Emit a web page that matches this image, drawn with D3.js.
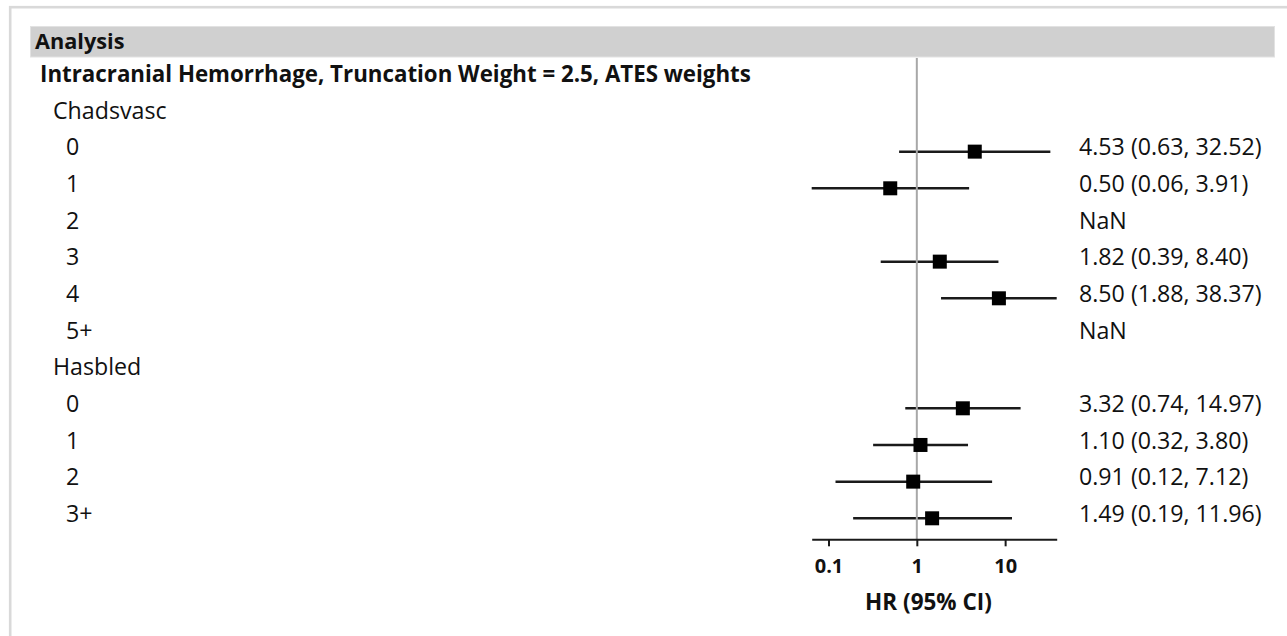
<!DOCTYPE html>
<html>
<head>
<meta charset="utf-8">
<script src="https://cdn.jsdelivr.net/npm/d3@7"></script>
<style>
  html, body { margin: 0; padding: 0; background: #fff; }
  svg { display: block; font-family: "Open Sans", "Noto Sans", sans-serif; }
</style>
</head>
<body>
<svg id="chart" width="1287" height="636"></svg>
<script>
// ---- data ----
const headerTitle = "Analysis";
const rowLabels = [
  "Intracranial Hemorrhage, Truncation Weight = 2.5, ATES weights",
  "Chadsvasc", "0", "1", "2", "3", "4", "5+",
  "Hasbled", "0", "1", "2", "3+"
];
const rowLevel = [0, 1, 2, 2, 2, 2, 2, 2, 1, 2, 2, 2, 2];
const hrValues = [null, null, 4.53, 0.50, NaN, 1.82, 8.50, NaN, null, 3.32, 1.10, 0.91, 1.49];
const lowerCI  = [null, null, 0.63, 0.0645, NaN, 0.39, 1.88, NaN, null, 0.74, 0.32, 0.12, 0.19];
const upperCI  = [null, null, 32.52, 3.91, NaN, 8.40, 38.37, NaN, null, 14.97, 3.80, 7.12, 11.96];
const tickValues = [0.1, 1, 10];
const tickLabels = ["0.1", "1", "10"];
const axisTitle = "HR (95% CI)";

// ---- layout ----
const svg = d3.select("#chart");
const W = 1287, H = 636;

// outer frame (top + left edges visible)
svg.append("rect")
  .attr("x", 10.2).attr("y", 7.2)
  .attr("width", W + 20).attr("height", H + 20)
  .attr("fill", "none").attr("stroke", "#d9d9d9").attr("stroke-width", 2.6);

// header bar
svg.append("rect")
  .attr("x", 30.5).attr("y", 26.5).attr("width", 1244).attr("height", 30.5)
  .attr("fill", "#d0d0d0").attr("stroke", "#e2e2e2").attr("stroke-width", 1);
svg.append("text")
  .attr("x", 35).attr("y", 49)
  .attr("font-size", 21.7).attr("font-weight", "bold").attr("fill", "#111")
  .text(headerTitle);

const y = d3.scaleLinear().domain([0, rowLabels.length - 1]).range([73.7, 513.7]);
const indentX = [40, 53, 66];
const fsRow = 23.2;
const fsBold = 22.3;

// left labels
svg.append("g").selectAll("text")
  .data(rowLabels)
  .join("text")
  .attr("x", (d, i) => indentX[rowLevel[i]])
  .attr("y", (d, i) => y(i) + 0.357 * (rowLevel[i] === 0 ? fsBold : fsRow))
  .attr("font-size", (d, i) => rowLevel[i] === 0 ? fsBold : fsRow)
  .attr("font-weight", (d, i) => rowLevel[i] === 0 ? "bold" : "normal")
  .attr("fill", "#111")
  .text(d => d);

// x scale (log)
const finiteLo = lowerCI.filter(v => v != null && isFinite(v));
const finiteHi = upperCI.filter(v => v != null && isFinite(v));
const x = d3.scaleLog()
  .domain([d3.min(finiteLo), d3.max(finiteHi)])
  .range([811.7, 1056.7]);

const axisY = 539.3;
const markerOffset = 4.6;

// data rows
const rows = rowLabels.map((lab, i) => ({
  i, hr: hrValues[i], lo: lowerCI[i], hi: upperCI[i], level: rowLevel[i]
}));
const est = rows.filter(r => r.hr != null && isFinite(r.hr));

// CI lines
svg.append("g").selectAll("line")
  .data(est)
  .join("line")
  .attr("x1", d => x(d.lo)).attr("x2", d => x(d.hi))
  .attr("y1", d => y(d.i) + markerOffset).attr("y2", d => y(d.i) + markerOffset)
  .attr("stroke", "#1a1a1a").attr("stroke-width", 2.5);

// reference line at 1
svg.append("line")
  .attr("x1", x(1)).attr("x2", x(1))
  .attr("y1", 58).attr("y2", axisY)
  .attr("stroke", "#a8a8a8").attr("stroke-width", 2);

// markers
const ms = 14;
svg.append("g").selectAll("rect")
  .data(est)
  .join("rect")
  .attr("x", d => x(d.hr) - ms / 2)
  .attr("y", d => y(d.i) + markerOffset - ms / 2)
  .attr("width", ms).attr("height", ms)
  .attr("fill", "#000");

// right-hand labels
const f2 = d3.format(".2f");
svg.append("g").selectAll("text")
  .data(rows.filter(r => r.level === 2))
  .join("text")
  .attr("x", 1079)
  .attr("y", d => y(d.i) + 0.357 * fsRow)
  .attr("font-size", fsRow)
  .attr("fill", "#111")
  .text(d => isFinite(d.hr) ? `${f2(d.hr)} (${f2(d.lo)}, ${f2(d.hi)})` : "NaN");

// axis
const axis = d3.axisBottom(x)
  .tickValues(tickValues)
  .tickFormat((d, i) => tickLabels[i])
  .tickSize(7)
  .tickSizeOuter(0);
const gAxis = svg.append("g")
  .attr("transform", `translate(0,${axisY})`)
  .call(axis);
gAxis.select(".domain").attr("stroke", "#1a1a1a").attr("stroke-width", 2);
gAxis.selectAll(".tick line").attr("stroke", "#1a1a1a").attr("stroke-width", 2);
gAxis.selectAll(".tick text")
  .attr("dy", null)
  .attr("y", 34)
  .attr("font-size", 20)
  .attr("font-weight", "bold")
  .attr("font-family", "\"Open Sans\", sans-serif")
  .attr("fill", "#111");

svg.append("text")
  .attr("x", 928.5).attr("y", 609.8)
  .attr("text-anchor", "middle")
  .attr("font-size", 22.5).attr("font-weight", "bold").attr("fill", "#111")
  .text(axisTitle);
</script>
</body>
</html>
